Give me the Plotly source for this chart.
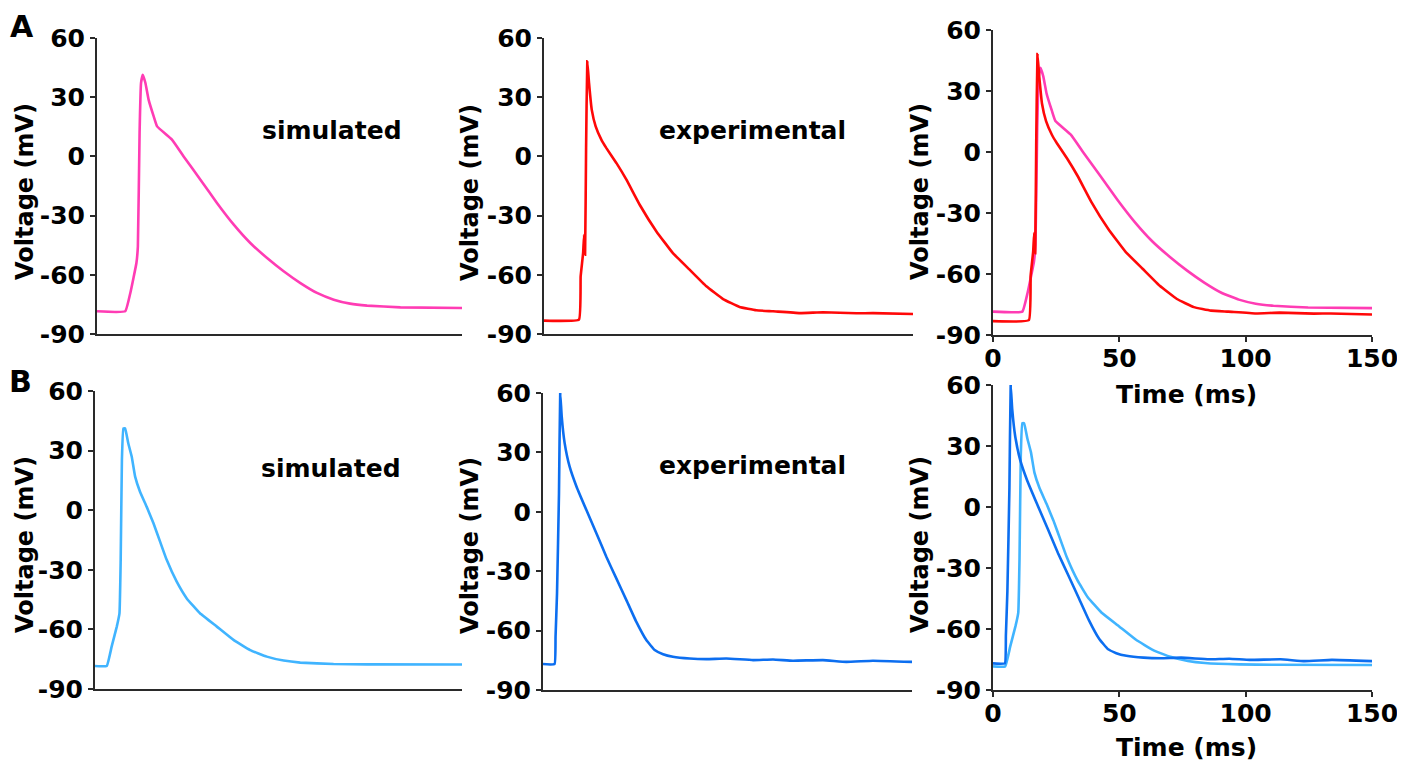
import plotly.graph_objects as go

# ---------------- data ----------------
# Panel A: simulated (pink)
t_sim_A = [0, 11.6, 13.7, 16.2, 16.8, 17.5, 18.1, 18.8, 19.9, 21.2, 23.3, 24.7, 30.8, 35.6,
           42.5, 49.3, 56.2, 63.0, 69.9, 76.7, 83.6, 90.4, 97.3, 104, 111, 124.7, 150]
v_sim_A = [-78.5, -78.5, -69.2, -54, -45.6, 11.9, 37.2, 41.4, 37.2, 28.8, 20.3, 15.2, 8.5, 0,
           -11.8, -23.6, -34.6, -43.9, -51.5, -58.2, -64.2, -69.2, -72.6, -74.6, -75.6, -76.5, -76.8]

# Panel A: experimental (red)
t_exp_A = [0, 14.2, 14.9, 15.9, 16.3, 16.7, 17.1, 17.6, 18.3, 19.4, 21.0, 23.3, 25.3, 29.4,
           33.5, 38.9, 45.7, 52.4, 59.2, 66.0, 72.8, 79.5, 86.3, 93.1, 104, 113.4, 127, 133.7, 150]
v_exp_A = [-83.2, -82.7, -60.8, -49, -39.7, -49.8, 3.4, 48.2, 37.2, 23.7, 15.2, 8.5, 4.3, -3.3,
           -11.8, -24.5, -38, -49, -57.4, -65.8, -72.3, -76.3, -78, -78.5, -79.4, -79, -79.5, -79.4, -79.9]

# Panel B: simulated (light blue)
t_sim_B = [0, 4.8, 6.8, 8.9, 10.0, 10.5, 11.0, 11.6, 12.3, 13.6, 15.0, 16.4, 18.4, 21.1, 23.9,
           26.6, 29.3, 33.4, 37.5, 42.9, 49.8, 56.6, 63.4, 70.2, 77.1, 83.9, 97.5, 111.2, 150]
v_sim_B = [-78.4, -78.4, -68.7, -58.6, -51.9, -25, 25.3, 41.2, 41.2, 33.7, 27, 16.9, 9.3, 1.8, -6.6,
           -15.8, -25, -36, -44.4, -51.9, -58.6, -65.3, -70.4, -73.7, -75.7, -76.7, -77.4, -77.6, -77.7]

# Panel B: experimental (dark blue)
t_exp_B = [0, 4.7, 5.1, 5.7, 6.5, 7.0, 7.6, 8.8, 10.8, 13.6, 17.6, 21.7, 25.7, 29.8, 33.9, 37.9,
           42.0, 45.4, 48.8, 52.8, 59.6, 66.4, 74.5, 85.4, 93.5, 101.6, 113.8, 123.3, 134.1, 150]
v_exp_B = [-76.9, -76.9, -63.1, -41.2, 9.4, 60, 48.2, 34.7, 22.9, 12.8, 1, -10.8, -22.6, -33.6, -44.6, -55.5,
           -64.8, -69.8, -71.9, -73.2, -74.1, -74.4, -74.1, -74.9, -74.6, -75.2, -74.9, -75.8, -75.2, -75.8]

y_ticks = [-90, -60, -30, 0, 30, 60]
x_ticks = [0, 50, 100, 150]
y_title = "Voltage (mV)"
x_title = "Time (ms)"
labels = ["simulated", "experimental"]
panel_letters = ["A", "B"]

# ---------------- styling ----------------
PINK = "#FF3CB4"
RED = "#FF0808"
LBLUE = "#40B4FF"
DBLUE = "#0C6EF0"
AX = "#2a2a2a"
FONT = "DejaVu Sans"
W, H = 1405, 766
OFF = 8  # page body margin of the browser

def px_x(p):
    return (p - OFF) / W

def px_y(p):
    return 1 - (p - OFF) / H

# plot-area boxes in pixels of the target picture: (left, right, top, bottom)
boxes = [
    (97, 462, 38, 334),    # A1
    (544, 913, 38, 334),   # A2
    (993, 1372, 30, 335),  # A3
    (95, 462, 391, 689),   # B1
    (543, 912, 393, 690),  # B2
    (993, 1372, 385, 690), # B3
]

fig = go.Figure()

traces = [
    (1, t_sim_A, v_sim_A, PINK),
    (2, t_exp_A, v_exp_A, RED),
    (3, t_sim_A, v_sim_A, PINK),
    (3, t_exp_A, v_exp_A, RED),
    (4, t_sim_B, v_sim_B, LBLUE),
    (5, t_exp_B, v_exp_B, DBLUE),
    (6, t_sim_B, v_sim_B, LBLUE),
    (6, t_exp_B, v_exp_B, DBLUE),
]
for idx, t, v, col in traces:
    sfx = "" if idx == 1 else str(idx)
    fig.add_trace(go.Scatter(x=t, y=v, mode="lines",
                             line=dict(color=col, width=2.6, shape="spline", smoothing=0.3),
                             xaxis="x" + sfx, yaxis="y" + sfx, showlegend=False,
                             hoverinfo="skip"))

layout = dict(width=W, height=H, margin=dict(l=0, r=0, t=0, b=0, autoexpand=False),
              paper_bgcolor="white", plot_bgcolor="white", showlegend=False,
              font=dict(family=FONT, size=25, color="black"))

tickfont = dict(family=FONT, size=25, color="black")
for i, (l, r, t, b) in enumerate(boxes, start=1):
    sfx = "" if i == 1 else str(i)
    show_x = i in (3, 6)
    layout["xaxis" + sfx] = dict(
        domain=[px_x(l), px_x(r)], range=[0, 150], anchor="y" + sfx, automargin=False,
        showgrid=False, zeroline=False, showline=True, linecolor=AX, linewidth=2,
        ticks="outside" if show_x else "", ticklen=5, tickwidth=2, tickcolor=AX,
        tickvals=x_ticks if show_x else [], showticklabels=show_x,
        ticktext=["<b>%d</b>" % v for v in x_ticks] if show_x else [],
        ticklabelstandoff=-5,
        tickfont=tickfont, fixedrange=True,
    )
    layout["yaxis" + sfx] = dict(
        domain=[px_y(b), px_y(t)], range=[-90, 60], anchor="x" + sfx, automargin=False,
        showgrid=False, zeroline=False, showline=True, linecolor=AX, linewidth=2,
        ticks="outside", ticklen=5, tickwidth=2, tickcolor=AX,
        tickvals=y_ticks, ticktext=["<b>%d</b>" % v for v in y_ticks],
        tickfont=tickfont, fixedrange=True,
    )

annotations = []
# y-axis titles
ytitle_pos = [(25, 192), (470, 192), (920, 192), (25, 545), (470, 545), (920, 545)]
for (x, y) in ytitle_pos:
    annotations.append(dict(text="<b>%s</b>" % y_title, x=px_x(x), y=px_y(y), xref="paper", yref="paper",
                            xanchor="center", yanchor="middle", textangle=-90, showarrow=False,
                            font=dict(family=FONT, size=24, color="black")))
# x-axis titles
for (x, y) in [(1186, 394), (1186, 747)]:
    annotations.append(dict(text="<b>%s</b>" % x_title, x=px_x(x), y=px_y(y), xref="paper", yref="paper",
                            xanchor="center", yanchor="middle", showarrow=False,
                            font=dict(family=FONT, size=25, color="black")))
# panel labels text
label_pos = [(332, 130, labels[0]), (752, 130, labels[1]), (331, 469, labels[0]), (752, 465, labels[1])]
for (x, y, s) in label_pos:
    annotations.append(dict(text="<b>%s</b>" % s, x=px_x(x), y=px_y(y), xref="paper", yref="paper",
                            xanchor="center", yanchor="middle", showarrow=False,
                            font=dict(family=FONT, size=25, color="black")))
# panel letters
for (x, y, s) in [(22, 26, panel_letters[0]), (20, 381, panel_letters[1])]:
    annotations.append(dict(text="<b>%s</b>" % s, x=px_x(x), y=px_y(y), xref="paper", yref="paper",
                            xanchor="center", yanchor="middle", showarrow=False,
                            font=dict(family=FONT, size=30, color="black")))
layout["annotations"] = annotations

fig.update_layout(**layout)
fig.write_html("out.html", config={"displayModeBar": False})
